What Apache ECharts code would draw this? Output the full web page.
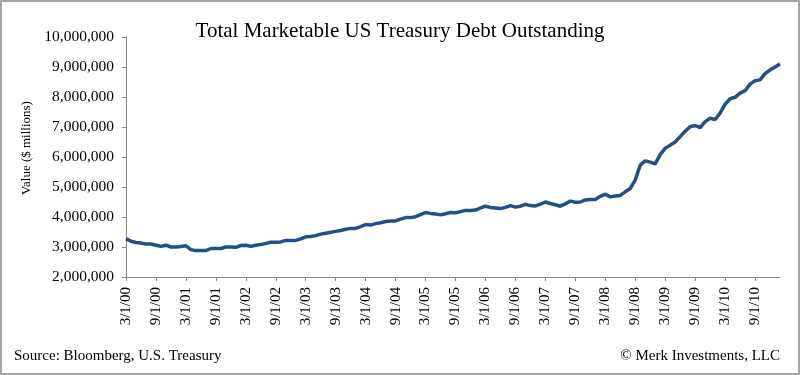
<!DOCTYPE html>
<html>
<head>
<meta charset="utf-8">
<script src="https://cdn.jsdelivr.net/npm/echarts@6/dist/echarts.min.js"></script>
<style>
  html, body { margin: 0; padding: 0; background: #fff; }
  #main { width: 800px; height: 375px; }
</style>
</head>
<body>
<div id="main"></div>
<script>
// monthly values, $ millions, 3/1/00 .. 2/1/11
var debt = [
    3280000, 3190000, 3150000, 3130000, 3100000, 3100000, 3060000, 3020000, 3060000, 3000000,
    3000000, 3020000, 3040000, 2910000, 2880000, 2880000, 2880000, 2950000, 2950000, 2950000,
    3000000, 3000000, 2990000, 3050000, 3060000, 3020000, 3060000, 3080000, 3120000, 3160000,
    3160000, 3170000, 3220000, 3220000, 3220000, 3270000, 3340000, 3350000, 3380000, 3430000,
    3460000, 3490000, 3520000, 3550000, 3590000, 3620000, 3620000, 3680000, 3750000, 3730000,
    3780000, 3810000, 3850000, 3870000, 3870000, 3930000, 3980000, 3980000, 4010000, 4080000,
    4150000, 4120000, 4100000, 4070000, 4110000, 4150000, 4140000, 4180000, 4220000, 4220000,
    4230000, 4300000, 4360000, 4320000, 4300000, 4280000, 4320000, 4380000, 4330000, 4360000,
    4420000, 4380000, 4370000, 4430000, 4500000, 4450000, 4410000, 4360000, 4440000, 4530000,
    4490000, 4500000, 4570000, 4580000, 4580000, 4690000, 4760000, 4670000, 4700000, 4720000,
    4840000, 4950000, 5230000, 5730000, 5870000, 5830000, 5770000, 6080000, 6290000, 6390000,
    6500000, 6680000, 6860000, 7010000, 7050000, 6980000, 7180000, 7290000, 7250000, 7460000,
    7760000, 7940000, 7990000, 8130000, 8210000, 8430000, 8540000, 8570000, 8780000, 8900000,
    9000000, 9100000
];

var dates = [];
for (var i = 0; i < debt.length; i++) {
    var m = (2 + i) % 12 + 1;
    var y = 2000 + Math.floor((2 + i) / 12);
    dates.push(m + '/1/' + String(y % 100).padStart(2, '0'));
}

var serif = '"Liberation Serif", "Times New Roman", serif';

var myChart = echarts.init(document.getElementById('main'));
var option = {
    backgroundColor: '#fff',
    animation: false,
    title: {
        text: 'Total Marketable US Treasury Debt Outstanding',
        left: 'center',
        top: 16,
        textStyle: {
            fontFamily: serif,
            fontSize: 21,
            fontWeight: 'normal',
            color: '#000'
        }
    },
    graphic: [{
        type: 'rect',
        shape: { x: 1, y: 1, width: 798, height: 373 },
        style: { fill: 'none', stroke: '#a6a6a6', lineWidth: 2 },
        silent: true
    }, {
        // y axis title
        type: 'text',
        x: 27,
        y: 148,
        rotation: Math.PI / 2,
        style: {
            text: 'Value ($ millions)',
            font: '13px ' + serif,
            fill: '#000',
            textAlign: 'center',
            textVerticalAlign: 'middle'
        }
    }, {
        type: 'text',
        left: 14,
        top: 349,
        style: { text: 'Source: Bloomberg, U.S. Treasury', font: '15px ' + serif, fill: '#000' }
    }, {
        type: 'text',
        right: 20,
        top: 349,
        style: { text: '\u00a9 Merk Investments, LLC', font: '15px ' + serif, fill: '#000' }
    }],
    grid: {
        left: 126,
        right: 20,
        top: 37,
        bottom: 98
    },
    xAxis: {
        type: 'category',
        data: dates,
        boundaryGap: false,
        axisLine: { lineStyle: { color: '#888', width: 1 } },
        axisTick: { interval: 5, length: 4, lineStyle: { color: '#888' } },
        axisLabel: {
            interval: 5,
            rotate: 90,
            margin: 10,
            fontFamily: serif,
            fontSize: 15,
            color: '#000'
        },
        splitLine: { show: false }
    },
    yAxis: {
        type: 'value',
        min: 2000000,
        max: 10000000,
        interval: 1000000,
        axisLine: { show: true, lineStyle: { color: '#888', width: 1 } },
        axisTick: { show: true, length: 4, lineStyle: { color: '#888' } },
        axisLabel: {
            margin: 12,
            fontFamily: serif,
            fontSize: 15.5,
            color: '#000',
            formatter: function (v) { return v.toLocaleString('en-US'); }
        },
        splitLine: { show: false }
    },
    series: [{
        name: 'Debt',
        type: 'line',
        data: debt,
        showSymbol: false,
        lineStyle: { color: '#24508a', width: 3.5 },
        itemStyle: { color: '#24508a' }
    }]
};
myChart.setOption(option);
</script>
</body>
</html>
